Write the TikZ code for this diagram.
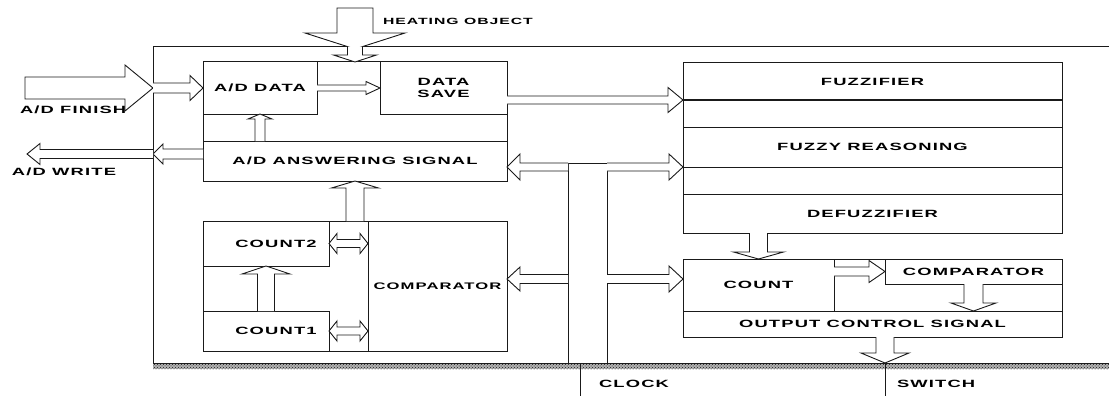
\documentclass[tikz,border=0pt]{standalone}
\usepackage{fontspec}
\setmainfont{Liberation Sans}[FakeStretch=1.75,LetterSpace=11]
\usepackage{tikz}
\usetikzlibrary{positioning,calc,patterns}
\definecolor{ink}{HTML}{1A1A1A}
\newcommand{\boxfont}{\fontsize{10.5}{12}\bfseries\selectfont}
\newcommand{\smboxfont}{\fontsize{9.5}{11}\bfseries\selectfont}
\newcommand{\heatfont}{\fontsize{9}{11}\bfseries\selectfont}
% hollow block arrow: [tail] from, to, shaft half, head half, head length
\newcommand{\fatarr}[6][]{%
  \draw[fat] let \p1=($(#3)-(#2)$), \n1={atan2(\y1,\x1)}, \n2={veclen(\x1,\y1)} in
    [shift={(#2)},rotate=\n1] (0,#4) -- (\n2-#6,#4) -- (\n2-#6,#5) -- (\n2,0)
    -- (\n2-#6,-#5) -- (\n2-#6,-#4) -- (0,-#4) #1;}
% hollow arrow with a head at both ends
\newcommand{\dblarr}[5]{%
  \draw[fat] let \p1=($(#2)-(#1)$), \n1={atan2(\y1,\x1)}, \n2={veclen(\x1,\y1)} in
    [shift={(#1)},rotate=\n1] (0,0) -- (#5,#4) -- (#5,#3) -- (\n2-#5,#3) -- (\n2-#5,#4)
    -- (\n2,0) -- (\n2-#5,-#4) -- (\n2-#5,-#3) -- (#5,-#3) -- (#5,-#4) -- cycle;}

\begin{document}
\begin{tikzpicture}[x=1pt,y=-1pt,
  box/.style={draw=ink,line width=1pt,inner sep=0pt,outer sep=0pt,align=center,font=\boxfont},
  lbl/.style={inner sep=0pt,outer sep=0pt,anchor=west,font=\boxfont},
  fat/.style={draw=ink,line width=0.9pt,fill=white,line join=miter}]
\useasboundingbox (0,0) rectangle (1109,396);
% frame of the controller
\coordinate (frmTL) at (153,47);
\coordinate (frmBL) at (153,363);
\fill[black!30] (frmBL) rectangle (1109,369);
\fill[pattern=crosshatch dots,pattern color=ink] (frmBL) rectangle (1109,369);
\draw[ink,line width=1pt] (1109,47) -- (frmTL) -- (frmBL) -- (1109,363);

% sampling part
\node[box,minimum width=304pt,minimum height=119pt] (upgrp) at (355,121.5) {};
\node[box,minimum width=114pt,minimum height=52pt] (addata) at (260,88) {A/D DATA};
\node[box,minimum width=127pt,minimum height=52pt,right=63pt of addata] (datasave) {DATA\\SAVE};
\node[box,minimum width=304pt,minimum height=40pt] (answer) at (355,161) {A/D ANSWERING SIGNAL};
\node[box,minimum width=304pt,minimum height=130pt] (lowgrp) at (355,286) {};
\node[box,minimum width=126pt,minimum height=45pt] (count2) at (266,243.5) {\hspace*{20pt}COUNT2};
\node[box,minimum width=126pt,minimum height=40pt,below=45pt of count2] (count1) {\hspace*{20pt}COUNT1};
\node[box,minimum width=139pt,minimum height=130pt,font=\smboxfont] (comp1) at (437.5,286) {COMPARATOR};

% clock bus
\node[box,minimum width=39pt,minimum height=200pt] (bus) at (587.5,263) {};

% fuzzy part
\node[box,minimum width=379pt,minimum height=170pt] (fuzzy) at (872.5,148) {};
\node[box,minimum width=379pt,minimum height=37pt] (fuzz) at (872.5,81.5) {FUZZIFIER};
\node[box,minimum width=379pt,minimum height=40pt,below=27pt of fuzz] (reason) {FUZZY REASONING};
\node[box,minimum width=379pt,minimum height=39pt,below=27pt of reason] (defuzz) {DEFUZZIFIER};

% output part
\node[box,minimum width=379pt,minimum height=78pt] (cblk) at (872.5,298) {};
\node[box,minimum width=151pt,minimum height=52pt] (cnt) at (758.5,285) {COUNT};
\node[box,minimum width=177pt,minimum height=25pt] (comp2) at (973.5,271.5) {COMPARATOR};
\node[box,minimum width=379pt,minimum height=26pt] (ocs) at (872.5,324) {OUTPUT CONTROL SIGNAL};

% outside labels
\node[lbl] (finlbl) at (20,110) {A/D FINISH};
\node[lbl] (wrtlbl) at (12,172) {A/D WRITE};
\node[lbl,font=\heatfont] (heatlbl) at (383,21) {HEATING OBJECT};
\node[lbl] (clklbl) at (599,384) {CLOCK};
\node[lbl] (swlbl) at (897,384) {SWITCH};

\coordinate (finL) at (25,88);
\coordinate (wrt) at (27,154);
\coordinate (heat) at (355,8);
\coordinate (heattip) at (355,49);
\coordinate (lvl2) at (0,279);
\coordinate (clk) at (580,396);
\coordinate (sw) at (885,396);

\draw[ink,line width=0.6pt] (clk |- frmBL) -- (clk);
\draw[ink,line width=0.6pt] (sw |- frmBL) -- (sw);

% block arrows
\fatarr[-- cycle]{finL}{frmTL |- addata}{11}{23}{28}
\fatarr{frmTL |- addata}{addata.west}{5}{12.5}{13}
\fatarr{addata.east}{datasave.west}{3}{6.5}{14}
\fatarr{addata |- answer.north}{addata.south}{5}{12}{5}
\fatarr{answer.west |- wrt}{frmTL |- wrt}{5}{10}{10}
\fatarr{frmTL |- wrt}{wrt}{4.5}{10.5}{13}
\fatarr[-- cycle]{heat}{heattip}{18}{50}{16}
\fatarr{heat |- frmTL}{heat |- upgrp.north}{7.5}{21.5}{7}
\fatarr{datasave.east |- fuzz.south}{fuzz.south west}{4}{12.5}{15}
\fatarr{bus.west |- reason.south}{answer.east |- reason.south}{4}{13}{13}
\fatarr{bus.east |- reason.south}{reason.south west}{4}{13}{14}
\fatarr{bus.west |- lvl2}{comp1.east |- lvl2}{4.5}{12}{13}
\fatarr{bus.east |- lvl2}{cnt.west |- lvl2}{4.5}{13}{14}
\fatarr{cnt |- defuzz.south}{cnt.north}{9}{25}{7}
\fatarr{cnt.east |- comp2}{comp2.west}{4.5}{11}{16}
\fatarr{comp2.south}{comp2 |- ocs.north}{9.5}{22.5}{8}
\fatarr{sw |- ocs.south}{sw |- frmBL}{9}{24}{10}
\fatarr{count1.north}{count2.south}{8.5}{24}{8}
\fatarr{lowgrp.north}{answer.south}{9}{23.5}{7}
\dblarr{count2.east}{comp1.west |- count2}{4}{10}{8}
\dblarr{count1.east}{comp1.west |- count1}{4}{10}{8}
\end{tikzpicture}
\end{document}
